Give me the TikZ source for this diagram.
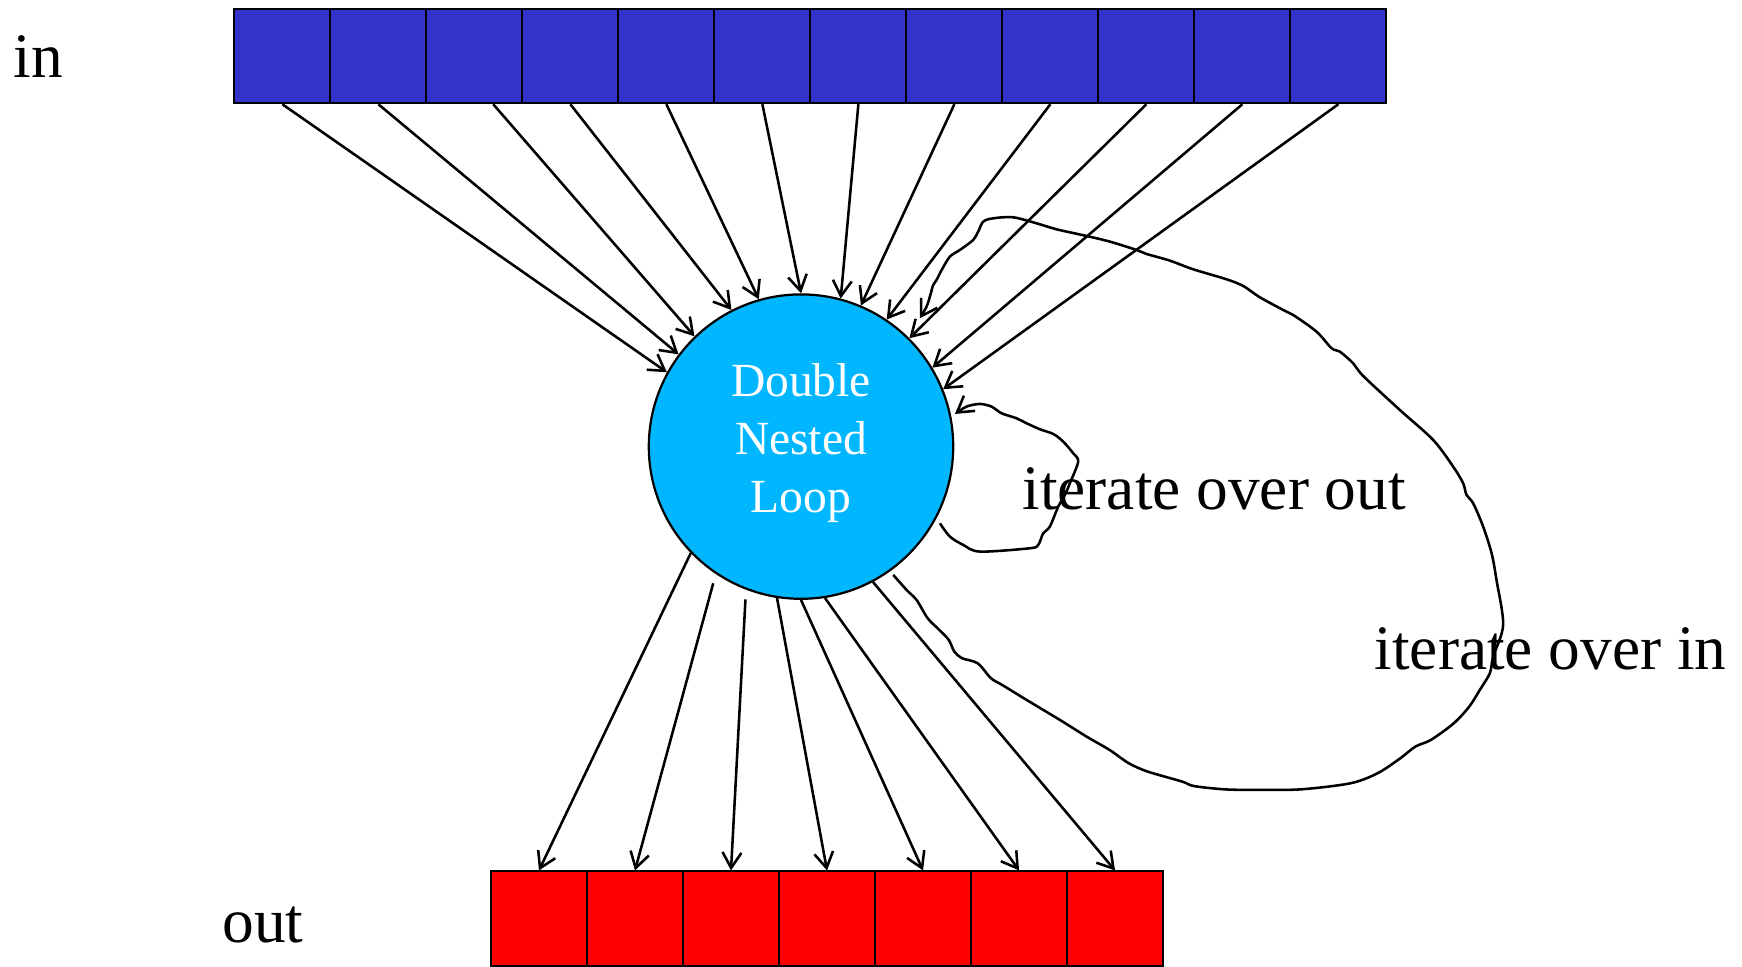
\documentclass[tikz,border=0pt]{standalone}
\usepackage{fontspec}
\setmainfont{Liberation Serif}
\usetikzlibrary{arrows.meta,calc}
\definecolor{inblue}{RGB}{51,51,204}
\definecolor{loopcyan}{RGB}{0,183,255}
\definecolor{outred}{RGB}{255,0,0}
\begin{document}
\begin{tikzpicture}[x=0.5pt,y=-0.5pt,
  cell/.style={draw=black,line width=0.9pt,minimum width=43.21pt,minimum height=42.5pt,
    inner sep=0pt,anchor=north west},
  flow/.style={line width=1.15pt,-{Straight Barb[length=7pt,width=8.5pt]}},
  wiggle/.style={flow,line join=round},
  bigtext/.style={font=\fontsize{28.5}{34}\selectfont,inner sep=0pt,anchor=base west},
]
\useasboundingbox (0,0) rectangle (1568,870);

% input array
\foreach \i in {1,...,12}
  \node[cell,fill=inblue] (in\i) at ({210+86.42*(\i-1)},7) {};
% output array
\foreach \i in {1,...,7}
  \node[cell,fill=outred] (out\i) at ({441+86.43*(\i-1)},783.5) {};

% the loop body
\node[circle,draw=black,line width=1pt,fill=loopcyan,minimum size=137pt,inner sep=0pt,
  text=white,font=\fontsize{21.4}{26}\selectfont] (loop) at (721,402)
  {\raisebox{1.6pt}[\height][\depth]{\parbox{80pt}{\centering Double\\Nested\\Loop}}};

% array labels
\node[bigtext] (inlabel) at (12,70) {in};
\node[bigtext] (outlabel) at (200,848) {out};
\node[bigtext] (outiter) at (920,459) {iterate over out};
\node[bigtext] (initer) at (1237,603) {iterate over in};

% every input element feeds the loop
\foreach \i/\s/\a in {1/0/151.7,2/0/143.9,3/8.5/134.9,4/0/117.7,5/0/106.7,6/0/90,
                      7/0/75.1,8/0/67.3,9/0/56.9,10/0/45.3,11/0/31,12/0/22.4}
  \draw[flow] ([xshift=\s pt]in\i.south) -- (loop.\a);

% the loop writes every output element
\coordinate (o2) at (642,525);
\coordinate (o3) at (671,539.5);
\draw[flow] (loop.224.9) -- (out1.north);
\draw[flow] (o2) -- (out2.north);
\draw[flow] (o3) -- (out3.north);
\draw[flow] (loop.261.5) -- (out4.north);
\draw[flow] (loop.270) -- (out5.north);
\draw[flow] (loop.279.5) -- (out6.north);
\draw[flow] (loop.298.3) -- (out7.north);

% inner loop: iterate over out
\coordinate (smallS) at (846,471);
\coordinate (smallE) at (859.6,372.6);
\draw[wiggle] plot[smooth,tension=0.5] coordinates {
  (smallS) (855,483) (867,490.5) (882,496.5) (927,493.5) (934.5,490.5) (939,480)
  (945,474) (952.5,456) (958.5,445.5) (963,435) (970.5,415.5) (966,408) (957,397.5)
  (948,390.6) (936,386.4) (924,381) (915,376.5) (901.5,372) (892.5,366) (882,363.6)
  (870,366) (smallE)};

% outer loop: iterate over in
\coordinate (bigS) at (804,517.5);
\coordinate (bigE) at (828,286.5);
\draw[wiggle] plot[smooth,tension=0.5] coordinates {
  (bigS) (816,531) (825,540) (835,556.5) (845.5,567) (854,576) (859,586.5) (866,592.5)
  (880,597) (892,610.5) (902,616.5) (926.5,631.5) (954,648) (978,663) (998.7,675)
  (1016,687) (1033,694.5) (1064,703.5) (1074.5,707.5) (1102,710.5) (1129.6,711)
  (1171,710.5) (1215.7,705) (1240,696) (1260.5,682.5) (1274,672) (1288,666)
  (1308.6,651) (1322.5,636) (1332,621) (1341,606) (1344,591) (1353,562.5) (1347,522)
  (1342.6,498) (1335,474) (1326,453) (1320,445.5) (1317,435) (1308,420) (1290,396)
  (1260,369) (1227,338.4) (1218,327) (1206,316.5) (1198.6,313.5) (1185,298.5)
  (1164,283.5) (1155,279) (1134,267.6) (1119,257.4) (1104,251.4) (1074,242.4)
  (1053,234.6) (1032,228.6) (1023,225) (999,217.5) (978,212.4) (951,206.4) (933,201)
  (912,195.6) (894,196.5) (885,199.5) (880.5,208.5) (876,216) (864,225) (855,231)
  (847.6,243) (843,252) (840,256.5) (837,267) (834,276) (bigE)};
\end{tikzpicture}
\end{document}
